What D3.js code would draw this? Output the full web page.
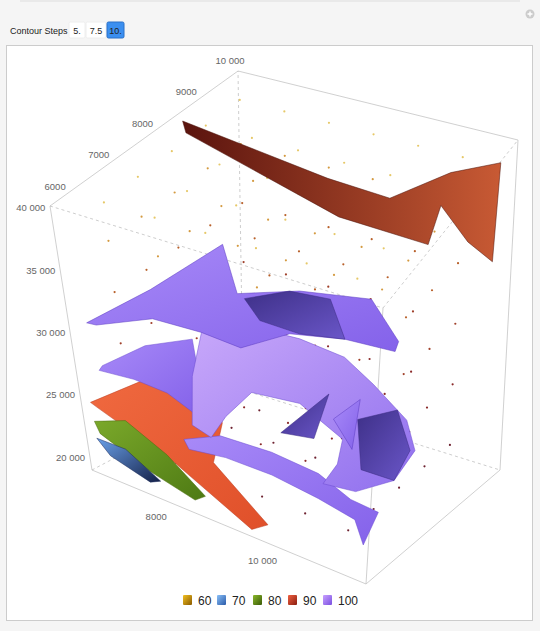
<!DOCTYPE html>
<html>
<head>
<meta charset="utf-8">
<script src="https://cdn.jsdelivr.net/npm/d3@7"></script>
<style>
  body { margin: 0; background: #f5f5f5; font-family: "Liberation Sans", Arial, sans-serif; }
</style>
</head>
<body>
<svg id="chart" width="540" height="631"></svg>
<script>
// axis ticks
const xTicks = [8000, 10000];
const yTicks = [6000, 7000, 8000, 9000, 10000];
const zTicks = [20000, 25000, 30000, 35000, 40000];

// legend levels
const levels = ["60", "70", "80", "90", "100"];
const steps = ["5.", "7.5", "10."];

// sample grid (x, y, z) and point values per z row
const gridX = [7200, 8000, 8800, 9600, 10400, 11200];
const gridY = [6200, 7000, 7800, 8600, 9400];
const gridZ = [21000, 25000, 29000, 33000, 37000, 40000];
const gridZColor = ["#6e2230", "#8a2a2a", "#a0402a", "#b8602a", "#d49a40", "#e6c868"];

// contour surfaces: [x, y, z] vertices
const surf70 = [[6794,5830,21505],[7324,5830,21544],[7933,5830,20060],[7730,5830,19636],[7012,5830,20484]];
const surf80 = [[6731,5915,22604],[7324,5915,23664],[8042,5915,22180],[8713,5915,20060],[8510,5915,19424],[7683,5915,20272],[6809,5915,21756]];
const surf90 = [[6544,6130,23433],[8089,6130,28540],[8869,6130,28925],[8963,6130,25745],[8760,6130,22373],[9743,6130,19193],[9431,6130,18325],[8042,6130,21120],[6653,6130,23240]];
const surfTop = [[6185,9355,37656],[8812,9355,36384],[9945,9355,36172],[11026,9355,38928],[11902,9355,40412],[11850,9355,33840],[11387,9355,34688],[10872,9355,36596],[10666,9355,33800],[9018,9355,34000],[6237,9355,36900]];
const surf100 = {
  wing: [[5530,7850,22102],[6400,7850,24730],[7306,7850,26404],[7388,7850,23813],[7256,7850,20955],[6753,7850,21758],[6124,7850,21908],[5456,7850,21658]],
  band: [[5320,7850,24966],[6592,7850,29074],[7955,7850,34077],[8179,7850,30810],[9294,7850,32395],[10562,7850,33376],[11060,7850,31008],[11004,7850,30231],[10105,7850,29978],[9113,7850,29116],[8206,7850,26943],[7487,7850,27124],[6586,7850,26941],[5501,7850,25045]],
  shade: [[8306,7850,30610],[9119,7850,32173],[9841,7850,32490],[10105,7850,29978],[9292,7850,29337],[8573,7850,29376]],
  mass: [[7487,7850,27124],[8390,7850,28727],[9292,7850,28982],[10101,7850,28698],[10637,7850,27442],[11262,7850,25728],[11438,7850,23815],[11071,7850,21239],[10347,7850,19500],[9717,7850,19224],[9990,7850,20978],[10085,7850,22867],[9280,7850,24360],[8378,7850,23963],[7867,7850,21566],[7557,7850,19625],[7198,7850,20036],[7262,7850,23658]],
  massShade: [[10360,7850,24621],[11085,7850,26217],[11347,7850,23705],[11071,7850,21239],[10441,7850,21176]],
  flap: [[7014,7850,18749],[7738,7850,19990],[8727,7850,20140],[9628,7850,19824],[10255,7850,18821],[10793,7850,18631],[10516,7850,15953],[10341,7850,17509],[9623,7850,18046],[8723,7850,18504],[7824,7850,18535],[7103,7850,18148]],
  tri1: [[8913,7850,21784],[9823,7850,25735],[9543,7850,22203]],
  tri2: [[9909,7850,24068],[10400,7850,26087],[10264,7850,22376]]
};

const svg = d3.select("#chart");

// top strip and controls
svg.append("line").attr("x1", 20).attr("x2", 520).attr("y1", 1).attr("y2", 1).attr("stroke", "#ddd");
svg.append("circle").attr("cx", 530).attr("cy", 14).attr("r", 4.5).attr("fill", "#ccc");
svg.append("path").attr("d", "M527.5,14h5M530,11.5v5").attr("stroke", "#fff").attr("stroke-width", 1.4);
svg.append("text").attr("x", 10).attr("y", 34).attr("font-size", 9).attr("fill", "#222").text("Contour Steps");
const btnX = [69, 86, 107], btnW = [16, 20, 17];
steps.forEach((s, i) => {
  const sel = i === 2;
  svg.append("rect").attr("x", btnX[i]).attr("y", 22).attr("width", btnW[i]).attr("height", 16).attr("rx", 1.5)
    .attr("fill", sel ? "#3b8ff0" : "#fff").attr("stroke", sel ? "#2a70c8" : "#eee");
  svg.append("text").attr("x", btnX[i] + btnW[i] / 2).attr("y", 34).attr("text-anchor", "middle")
    .attr("font-size", 9).attr("fill", "#222").text(s);
});

// plot panel
svg.append("rect").attr("x", 6.5).attr("y", 45.5).attr("width", 526).attr("height", 575).attr("fill", "#fff").attr("stroke", "#ccc");

// projection: trilinear between the box corners seen on screen
const sx = d3.scaleLinear().domain([6700, 11850]).range([0, 1]);
const sy = d3.scaleLinear().domain([5700, 10000]).range([0, 1]);
const sz = d3.scaleLinear().domain([19000, 40200]).range([0, 1]);
const C = {
  "000": [92, 470], "100": [366, 584], "010": [243, 390], "110": [500, 470],
  "001": [50, 206], "101": [383, 308], "011": [238, 71], "111": [518, 140]
};
function proj(p) {
  const u = sx(p[0]), v = sy(p[1]), w = sz(p[2]);
  let X = 0, Y = 0;
  for (const k in C) {
    const a = k[0] === "1" ? u : 1 - u, b = k[1] === "1" ? v : 1 - v, c = k[2] === "1" ? w : 1 - w;
    X += C[k][0] * a * b * c; Y += C[k][1] * a * b * c;
  }
  return [X, Y];
}
const line = d3.line().x(d => proj(d)[0]).y(d => proj(d)[1]);
const X0 = 6700, X1 = 11850, Y0 = 5700, Y1 = 10000, Z0 = 19000, Z1 = 40200;

// box edges
const solidEdges = [
  [[X0,Y0,Z0],[X0,Y0,Z1]], [[X0,Y0,Z1],[X0,Y1,Z1]], [[X0,Y1,Z1],[X1,Y1,Z1]],
  [[X1,Y1,Z1],[X1,Y1,Z0]], [[X1,Y1,Z0],[X1,Y0,Z0]], [[X1,Y0,Z0],[X0,Y0,Z0]], [[X1,Y0,Z1],[X1,Y0,Z0]]
];
const dashEdges = [
  [[X0,Y0,Z1],[X1,Y0,Z1]], [[X1,Y0,Z1],[X1,Y1,Z1]],
  [[X0,Y1,Z0],[X0,Y0,Z0]], [[X0,Y1,Z0],[X1,Y1,Z0]], [[X0,Y1,Z0],[X0,Y1,Z1]]
];
svg.append("g").selectAll("path").data(solidEdges).join("path")
  .attr("d", line).attr("stroke", "#c4c4c4").attr("stroke-width", 0.8).attr("fill", "none");
svg.append("g").selectAll("path").data(dashEdges).join("path")
  .attr("d", line).attr("stroke", "#b8b8b8").attr("stroke-width", 0.7).attr("stroke-dasharray", "3,3").attr("fill", "none");

// ticks and labels
const fmt = t => t >= 10000 ? String(t).slice(0, 2) + " " + String(t).slice(2) : String(t);
const lab = svg.append("g").attr("font-size", 9.5).attr("fill", "#666");
zTicks.forEach(t => {
  const p = proj([X0, Y0, t]);
  lab.append("text").attr("x", p[0] - 5).attr("y", p[1] + 3).attr("text-anchor", "end").text(fmt(t));
});
yTicks.forEach(t => {
  const p = proj([X0, t, Z1]);
  lab.append("text").attr("x", p[0] - 8).attr("y", p[1] - 7).attr("text-anchor", "middle").text(fmt(t));
});
xTicks.forEach(t => {
  const p = proj([t, Y0, Z0]);
  lab.append("text").attr("x", p[0] - 5).attr("y", p[1] + 21).attr("text-anchor", "middle").text(fmt(t));
});

// sample points
const pts = [];
gridX.forEach(x => gridY.forEach(y => gridZ.forEach((z, k) => pts.push({ p: [x, y, z], c: gridZColor[k] }))));
svg.append("g").selectAll("circle").data(pts).join("circle")
  .attr("cx", d => proj(d.p)[0]).attr("cy", d => proj(d.p)[1]).attr("r", 1.1).attr("fill", d => d.c);

// gradients
const defs = svg.append("defs");
function grad(id, c1, c2, x2 = 1, y2 = 1) {
  const g = defs.append("linearGradient").attr("id", id).attr("x1", 0).attr("y1", 0).attr("x2", x2).attr("y2", y2);
  g.append("stop").attr("offset", 0).attr("stop-color", c1);
  g.append("stop").attr("offset", 1).attr("stop-color", c2);
}
grad("gTop", "#5a140e", "#c85a34", 1, 0);
grad("g90", "#f06a40", "#e0502a");
grad("g80", "#7aa82a", "#4e7a14");
grad("g70", "#6aa0e8", "#142048");
grad("gP", "#a88af8", "#8462ea");
grad("gPl", "#c8a8fa", "#9070ee");
grad("gPd", "#3e3088", "#6a56c8");
grad("s60", "#f2c020", "#8a5a00");
grad("s70", "#8ac0f8", "#2a5aa8");
grad("s80", "#8ab82a", "#3a5a08");
grad("s90", "#f06040", "#8a1e10");
grad("s100", "#c8a0ff", "#7a50e0");

function surf(data, fill, stroke) {
  svg.append("path").datum(data).attr("d", d => line(d) + "Z")
    .attr("fill", fill).attr("stroke", stroke).attr("stroke-width", 0.5).attr("stroke-linejoin", "round");
}
surf(surfTop, "url(#gTop)", "#4a1008");
surf(surf90, "url(#g90)", "#b83c20");
surf(surf80, "url(#g80)", "#4a6a10");
surf(surf70, "url(#g70)", "#1a2a5a");
surf(surf100.wing, "url(#gP)", "#6a4ad0");
surf(surf100.flap, "url(#gP)", "#6a4ad0");
surf(surf100.mass, "url(#gPl)", "#6a4ad0");
surf(surf100.massShade, "url(#gPd)", "#3a2a80");
surf(surf100.band, "url(#gP)", "#5a3ac0");
surf(surf100.shade, "url(#gPd)", "#3a2a80");
surf(surf100.tri1, "url(#gPd)", "#3a2a80");
surf(surf100.tri2, "url(#gP)", "#5a3ac0");

// legend
const legX = [183, 217, 253, 288, 323];
levels.forEach((l, i) => {
  svg.append("rect").attr("x", legX[i]).attr("y", 595).attr("width", 9).attr("height", 10).attr("rx", 1)
    .attr("fill", "url(#s" + l + ")");
  svg.append("text").attr("x", legX[i] + 15).attr("y", 605).attr("font-size", 12).attr("fill", "#222").text(l);
});
</script>
</body>
</html>
